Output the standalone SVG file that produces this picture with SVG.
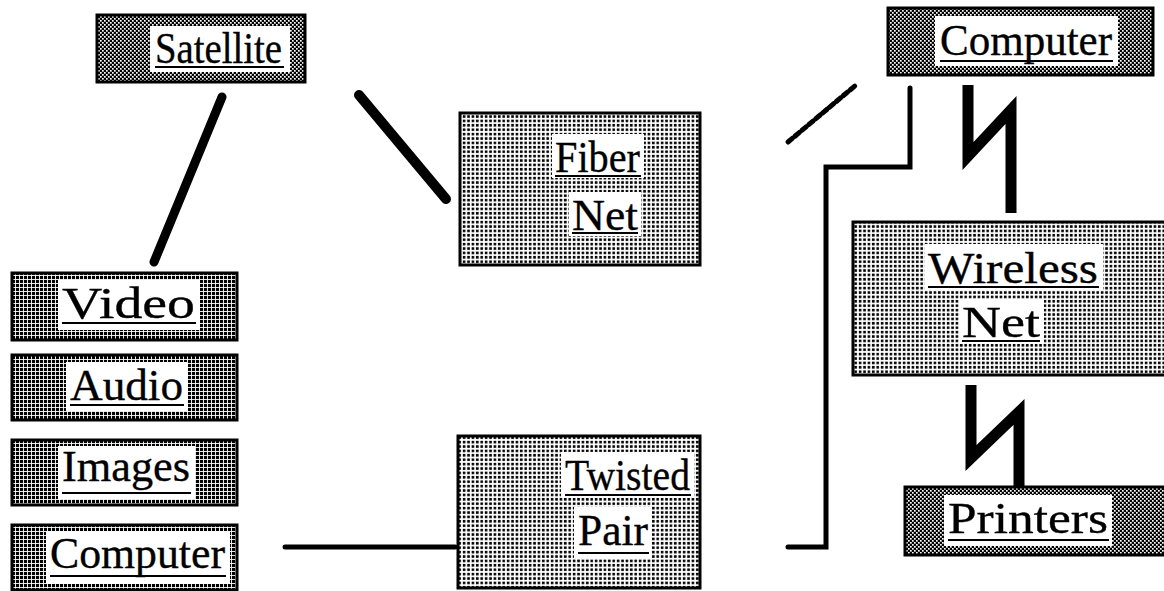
<svg xmlns="http://www.w3.org/2000/svg" width="1164" height="591" viewBox="0 0 1164 591">
  <defs>
    <!-- light dot screen for network boxes -->
    <pattern id="dots" width="4.4" height="4.4" patternUnits="userSpaceOnUse">
      <rect width="4.4" height="4.4" fill="#fff"/>
      <rect x="0.8" y="0.8" width="2.6" height="2.6" fill="#000"/>
    </pattern>
    <!-- dense grid screen for media boxes -->
    <pattern id="grid" width="4" height="4" patternUnits="userSpaceOnUse">
      <rect width="4" height="4" fill="#000"/>
      <rect x="3.1" y="0" width="0.9" height="4" fill="#fff"/>
      <rect x="0" y="3.1" width="4" height="0.9" fill="#fff"/>
    </pattern>
    <!-- checker screen for end devices -->
    <pattern id="check" width="4" height="4" patternUnits="userSpaceOnUse">
      <rect width="4" height="4" fill="#000"/>
      <rect x="0" y="0" width="1.7" height="1.7" fill="#fff"/>
      <rect x="2" y="2" width="1.7" height="1.7" fill="#fff"/>
    </pattern>
    <style>
      .light { fill: url(#dots); stroke: #000; stroke-width: 3; }
      .grid { fill: url(#grid); stroke: #000; stroke-width: 3; }
      .check { fill: url(#check); stroke: #000; stroke-width: 3; }
      .bg { fill: #fff; }
      .lbl { font-family: "Liberation Serif", "Times New Roman", serif; font-size: 45px; fill: #000; stroke: #000; stroke-width: 0.35; }
      .ul { stroke: #000; stroke-width: 2; }
      .wire { fill: none; stroke: #000; stroke-linecap: round; }
      .bolt { fill: none; stroke: #000; stroke-width: 11; stroke-linejoin: miter; }
    </style>
  </defs>
  <rect width="1164" height="591" fill="#fff"/>

  <!-- connectors -->
  <g id="connectors">
    <line class="wire" x1="222" y1="97" x2="154" y2="262" stroke-width="9"/>
    <line class="wire" x1="359" y1="95" x2="446" y2="199" stroke-width="10"/>
    <line class="wire" x1="788" y1="142" x2="856" y2="85" stroke-width="5" stroke-dasharray="6 3"/>
    <line class="wire" x1="285" y1="547" x2="455" y2="547" stroke-width="5" stroke-linecap="butt"/>
    <polyline class="wire" points="788,547 826,547 826,167 910,167 910,88" stroke-width="5" stroke-linecap="butt"/>
    <polyline class="bolt" points="968,85 968,156 1011,110 1011,213"/>
    <polyline class="bolt" points="971,385 971,458 1019,412 1019,502"/>
  </g>

  <g id="satellite">
    <rect class="check" x="97" y="15" width="208" height="67"/>
    <rect class="bg" x="150" y="26" width="140" height="46"/>
    <text class="lbl" x="155" y="63" textLength="127" lengthAdjust="spacingAndGlyphs">Satellite</text>
    <line class="ul" x1="155" y1="67" x2="284" y2="67"/>
  </g>

  <g id="computer-top">
    <rect class="check" x="888" y="8" width="265" height="67"/>
    <rect class="bg" x="935" y="16" width="183" height="50"/>
    <text class="lbl" x="940" y="55" textLength="172" lengthAdjust="spacingAndGlyphs">Computer</text>
    <line class="ul" x1="940" y1="61" x2="1113" y2="61"/>
  </g>

  <g id="fiber-net">
    <rect class="light" x="460" y="113" width="240" height="152"/>
    <rect class="bg" x="552" y="134" width="92" height="44"/>
    <text class="lbl" x="555" y="172" textLength="85" lengthAdjust="spacingAndGlyphs">Fiber</text>
    <line class="ul" x1="555" y1="176" x2="641" y2="176"/>
    <rect class="bg" x="569" y="192" width="72" height="44"/>
    <text class="lbl" x="572" y="230" textLength="66" lengthAdjust="spacingAndGlyphs">Net</text>
    <line class="ul" x1="572" y1="233" x2="638" y2="233"/>
  </g>

  <g id="wireless-net">
    <rect class="light" x="853" y="222" width="313" height="153"/>
    <rect class="bg" x="925" y="244" width="178" height="46"/>
    <text class="lbl" x="928" y="283" textLength="170" lengthAdjust="spacingAndGlyphs">Wireless</text>
    <line class="ul" x1="928" y1="287" x2="1099" y2="287"/>
    <rect class="bg" x="959" y="299" width="85" height="45"/>
    <text class="lbl" x="962" y="337" textLength="78" lengthAdjust="spacingAndGlyphs">Net</text>
    <line class="ul" x1="962" y1="341" x2="1040" y2="341"/>
  </g>

  <g id="video">
    <rect class="grid" x="12" y="273" width="225" height="67"/>
    <rect class="bg" x="58" y="280" width="142" height="50"/>
    <text class="lbl" x="62" y="318" textLength="133" lengthAdjust="spacingAndGlyphs">Video</text>
    <line class="ul" x1="62" y1="323" x2="196" y2="323"/>
  </g>

  <g id="audio">
    <rect class="grid" x="12" y="355" width="225" height="65"/>
    <rect class="bg" x="66" y="362" width="122" height="49"/>
    <text class="lbl" x="70" y="400" textLength="113" lengthAdjust="spacingAndGlyphs">Audio</text>
    <line class="ul" x1="70" y1="405" x2="184" y2="405"/>
  </g>

  <g id="images">
    <rect class="grid" x="12" y="440" width="225" height="65"/>
    <rect class="bg" x="58" y="446" width="137" height="53"/>
    <text class="lbl" x="62" y="481" textLength="128" lengthAdjust="spacingAndGlyphs">Images</text>
    <line class="ul" x1="62" y1="493" x2="191" y2="493"/>
  </g>

  <g id="computer-left">
    <rect class="grid" x="12" y="525" width="225" height="65"/>
    <rect class="bg" x="46" y="531" width="184" height="53"/>
    <text class="lbl" x="50" y="568" textLength="175" lengthAdjust="spacingAndGlyphs">Computer</text>
    <line class="ul" x1="50" y1="576" x2="226" y2="576"/>
  </g>

  <g id="twisted-pair">
    <rect class="light" x="458" y="436" width="242" height="152"/>
    <rect class="bg" x="561" y="452" width="133" height="46"/>
    <text class="lbl" x="565" y="490" textLength="125" lengthAdjust="spacingAndGlyphs">Twisted</text>
    <line class="ul" x1="565" y1="495" x2="691" y2="495"/>
    <rect class="bg" x="574" y="507" width="78" height="51"/>
    <text class="lbl" x="578" y="545" textLength="70" lengthAdjust="spacingAndGlyphs">Pair</text>
    <line class="ul" x1="578" y1="553" x2="649" y2="553"/>
  </g>

  <g id="printers">
    <rect class="check" x="905" y="487" width="261" height="68"/>
    <rect class="bg" x="944" y="495" width="168" height="51"/>
    <text class="lbl" x="948" y="533" textLength="160" lengthAdjust="spacingAndGlyphs">Printers</text>
    <line class="ul" x1="948" y1="540" x2="1109" y2="540"/>
  </g>
</svg>
